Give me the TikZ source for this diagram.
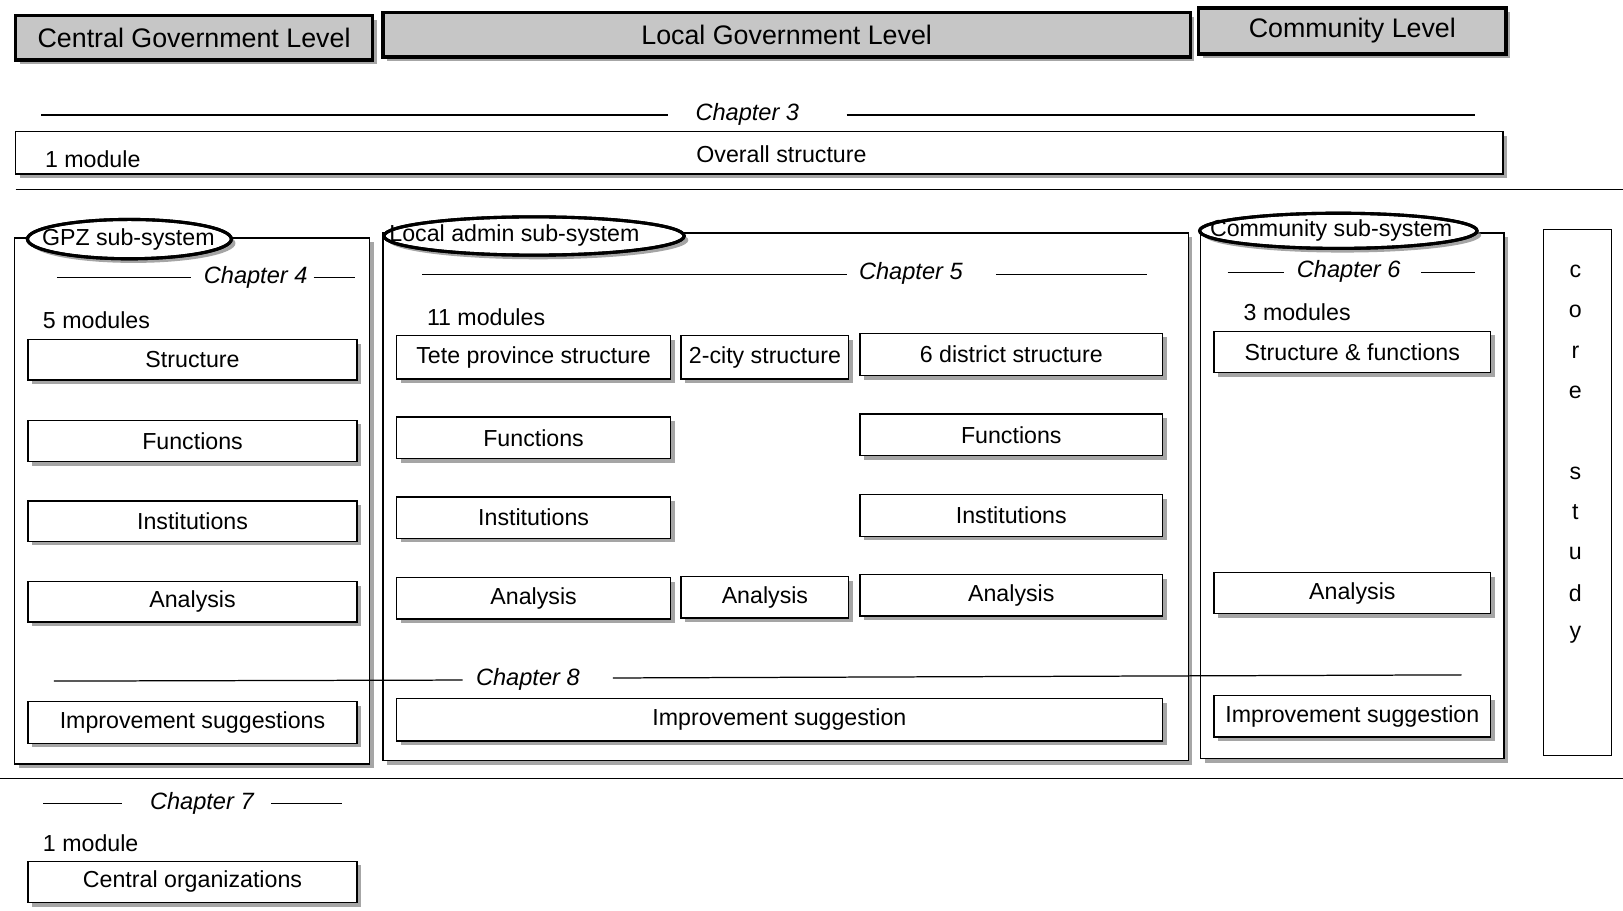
\documentclass[tikz,border=0pt]{standalone}
\usepackage{fontspec}
\setmainfont{Liberation Sans}
\usetikzlibrary{
    shapes.geometric,
    shadows,
    positioning
}

\begin{document}
\begin{tikzpicture}[x=1pt, y=-1pt,
    every node/.style={font=\fontsize{22.4}{26}\selectfont},
    shade box/.style={drop shadow={shadow xshift=4pt, shadow yshift=-4pt, fill=gray, opacity=0.7}},
    module/.style={draw, fill=white, line width=1.3pt, inner sep=0pt, minimum height=40pt, shade box},
    subsys/.style={draw, fill=white, line width=1.3pt, inner sep=0pt, minimum height=508pt, shade box},
    lvlbox/.style={draw, fill=gray!45, line width=3.5pt, inner sep=0pt, minimum height=43pt,
        font=\fontsize{25.9}{30}\selectfont, shade box},
    subtag/.style={ellipse, draw, fill=white, line width=3pt, inner sep=0pt, shade box},
    chapter/.style={font=\fontsize{22.8}{26}\selectfont\itshape},
    modcount/.style={anchor=west}
]
\useasboundingbox (0,0) rectangle (1568,880);

% levels
\node[lvlbox, minimum width=345pt] (central) at (187.5,36.5) {Central Government Level};
\node[lvlbox, minimum width=780pt] (local) at (760,33.5) {Local Government Level};
\node[lvlbox, minimum width=297pt, minimum height=44pt] (community) at (1306.5,30) {Community Level};

% chapter 3
\node[chapter] (ch3) at (722,111) {Chapter 3};
\draw[line width=1.2pt] (40,111) -- (645,111) (818,111) -- (1425,111);
\node[module, minimum width=1437pt, minimum height=41pt] (overall) at (733.5,147.5) {};
\node[modcount] (one) at (40,154) {1 module};
\node (ovtext) at (755,149) {Overall structure};
\draw[line width=1.2pt] (15,183) -- (1568,183);

% sub-systems
\node[subsys, minimum width=343pt] (gpz) at (185.5,484) {};
\node[subsys, minimum width=778pt, minimum height=510pt] (admin) at (759,480) {};
\node[subsys, minimum width=293pt] (comm) at (1306.5,479) {};
\node[draw, line width=1.2pt, minimum width=66pt, minimum height=508pt] (core) at (1524,476) {};

% chapter 8 runs across the boxes
\node[chapter] (ch8) at (510,656) {Chapter 8};
\draw[line width=1.2pt] (52,658) -- (447,657) (592,655) -- (1412,652);

\node[subtag, minimum width=197pt, minimum height=38pt] (gpztag) at (125,231) {};
\node (gpzlabel) at (124,231) {GPZ sub-system};
\draw[line width=3pt] (gpztag.center) ellipse [x radius=98.5, y radius=19];
\node[subtag, minimum width=290pt, minimum height=37pt] (admintag) at (516,228) {};
\node (adminlabel) at (497,228) {Local admin sub-system};
\draw[line width=3pt] (admintag.center) ellipse [x radius=145, y radius=18.5];
\node[subtag, minimum width=268pt, minimum height=34pt] (commtag) at (1293,223) {};
\node (commlabel) at (1286,223) {Community sub-system};
\draw[line width=3pt] (commtag.center) ellipse [x radius=134, y radius=17];

% GPZ
\node[chapter] (ch4) at (247,268) {Chapter 4};
\draw[line width=1.2pt] (55,268) -- (185,268) (303,268) -- (343,268);
\node[modcount] (gpzcount) at (38,309) {5 modules};
\node[module, minimum width=318pt, minimum height=39pt] (gStruct) at (186,347.5) {Structure};
\node[module, minimum width=318pt] (gFunc) at (186,426) {Functions};
\node[module, minimum width=318pt, minimum height=39pt] (gInst) at (186,503.5) {Institutions};
\node[module, minimum width=318pt, minimum height=39pt] (gAnal) at (186,581.5) {Analysis};
\node[module, minimum width=318pt] (gImpr) at (186,698) {Improvement suggestions};

% local admin
\node[chapter] (ch5) at (880,264) {Chapter 5};
\draw[line width=1.2pt] (408,265) -- (818,265) (962,265) -- (1108,265);
\node[modcount] (admincount) at (409,306) {11 modules};
\node[module, minimum width=265pt, minimum height=42pt] (lTete) at (515.5,345) {Tete province structure};
\node[module, minimum width=162pt, minimum height=42pt] (lCity) at (739,345) {2-city structure};
\node[module, minimum width=292pt, minimum height=41pt] (lDist) at (977,342.5) {6 district structure};
\node[module, minimum width=265pt] (lFuncA) at (515.5,423) {Functions};
\node[module, minimum width=292pt] (lFuncB) at (977,420) {Functions};
\node[module, minimum width=265pt] (lInstA) at (515.5,500) {Institutions};
\node[module, minimum width=292pt] (lInstB) at (977,498) {Institutions};
\node[module, minimum width=265pt] (lAnalA) at (515.5,578) {Analysis};
\node[module, minimum width=162pt] (lAnalB) at (739,577) {Analysis};
\node[module, minimum width=292pt] (lAnalC) at (977,575) {Analysis};
\node[module, minimum width=740pt, minimum height=41pt] (lImpr) at (753,695.5) {Improvement suggestion};

% community
\node[chapter] (ch6) at (1303,262) {Chapter 6};
\draw[line width=1.2pt] (1186,263) -- (1240,263) (1373,263) -- (1425,263);
\node[modcount] (commcount) at (1198,302) {3 modules};
\node[module, minimum width=267pt] (cStruct) at (1306.5,340) {Structure \& functions};
\node[module, minimum width=267pt] (cAnal) at (1306.5,573) {Analysis};
\node[module, minimum width=267pt] (cImpr) at (1306.5,692) {Improvement suggestion};

% core study
\foreach \ltr/\yy in {c/262, o/301, r/340, e/379, s/457, t/495, u/535, d/573, y/613}
    \node (core\yy) at (1522,\yy) {\ltr};

% chapter 7
\draw[line width=1.2pt] (0,752) -- (1568,752);
\node[chapter] (ch7) at (195,776) {Chapter 7};
\draw[line width=1.2pt] (42,776) -- (118,776) (262,776) -- (330,776);
\node[modcount] (orgcount) at (38,815) {1 module};
\node[module, minimum width=318pt] (cOrg) at (186,852) {Central organizations};
\end{tikzpicture}
\end{document}
